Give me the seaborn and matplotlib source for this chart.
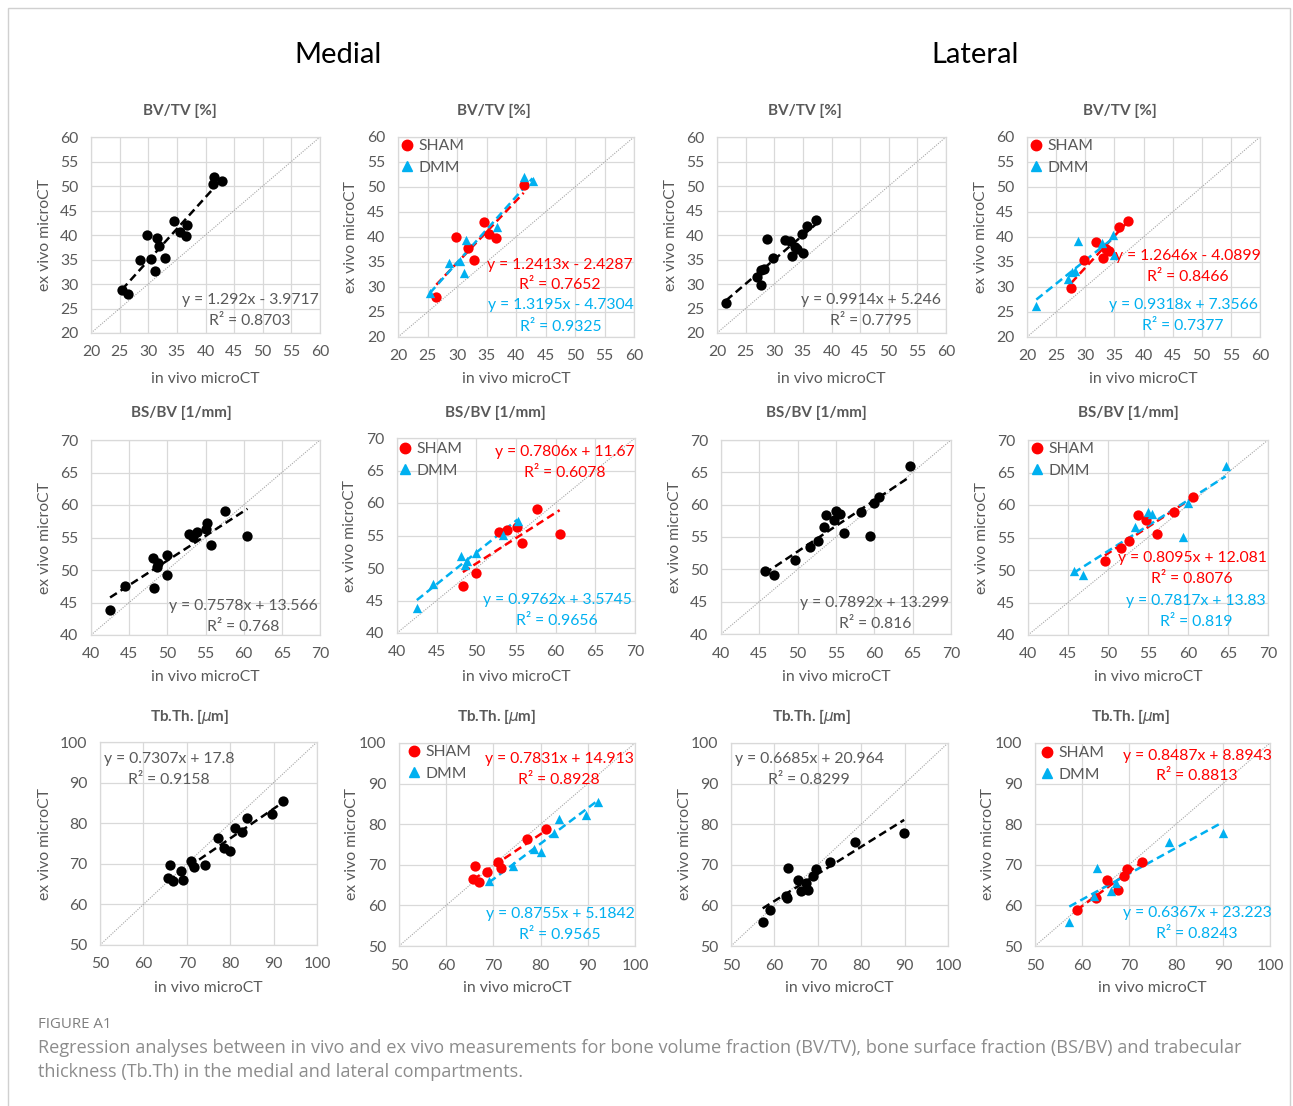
import matplotlib
matplotlib.use("Agg")
import matplotlib.pyplot as plt
import seaborn as sns
import numpy as np
import pandas as pd
from matplotlib.lines import Line2D
from matplotlib.patches import Rectangle

# ---------------- data ----------------
# Medial BV/TV
mbv_sham_x = [41.3, 34.5, 29.8, 35.5, 36.6, 31.8, 32.9, 26.5]
mbv_sham_y = [50.4, 42.9, 40.0, 40.6, 39.8, 37.8, 35.4, 28.0]
mbv_dmm_x = [41.4, 42.8, 36.7, 31.5, 30.5, 28.6, 31.2, 25.4]
mbv_dmm_y = [51.9, 51.1, 42.0, 39.3, 35.2, 34.8, 32.7, 28.8]
# Lateral BV/TV
lbv_sham_x = [37.3, 35.8, 31.9, 33.6, 34.0, 33.1, 29.8, 27.6]
lbv_sham_y = [43.1, 41.9, 39.0, 37.5, 37.2, 35.7, 35.4, 29.7]
lbv_dmm_x = [28.8, 32.8, 34.8, 35.0, 28.2, 27.7, 27.0, 21.6]
lbv_dmm_y = [39.2, 38.7, 40.3, 36.3, 33.1, 32.9, 31.5, 26.1]
# Medial BS/BV
mbs_sham_x = [57.6, 55.1, 53.9, 52.9, 55.7, 60.5, 50.0, 48.3]
mbs_sham_y = [59.1, 56.3, 55.9, 55.6, 53.8, 55.2, 49.2, 47.2]
mbs_dmm_x = [55.2, 53.3, 49.9, 48.1, 48.8, 48.6, 44.5, 42.5]
mbs_dmm_y = [57.2, 55.1, 52.3, 51.8, 51.1, 50.4, 47.6, 43.9]
# Lateral BS/BV
lbs_sham_x = [60.6, 58.2, 53.7, 54.7, 56.1, 52.6, 51.6, 49.6]
lbs_sham_y = [61.2, 58.9, 58.4, 57.7, 55.6, 54.4, 53.4, 51.4]
lbs_dmm_x = [64.7, 60.0, 55.0, 55.5, 53.4, 59.4, 45.7, 46.9]
lbs_dmm_y = [66.0, 60.3, 59.0, 58.6, 56.6, 55.1, 49.8, 49.2]
# Medial Tb.Th
mtb_sham_x = [81.2, 77.2, 70.9, 71.7, 68.6, 66.1, 65.7, 66.9]
mtb_sham_y = [78.7, 76.3, 70.6, 69.3, 68.2, 69.8, 66.6, 65.8]
mtb_dmm_x = [92.1, 89.6, 83.8, 82.8, 78.6, 80.0, 74.1, 69.1]
mtb_dmm_y = [85.5, 82.2, 81.2, 77.8, 73.9, 73.1, 69.6, 65.9]
# Lateral Tb.Th
ltb_sham_x = [72.8, 69.5, 68.9, 65.4, 67.7, 63.0, 58.9]
ltb_sham_y = [70.6, 68.9, 67.3, 66.2, 63.8, 61.8, 58.9]
ltb_dmm_x = [89.9, 78.5, 63.1, 67.2, 66.2, 62.6, 57.3]
ltb_dmm_y = [77.9, 75.6, 69.1, 65.4, 63.6, 62.4, 55.9]

# trendline coefficients (slope, intercept) as reported
fit_all = {"mbv": (1.292, -3.9717), "lbv": (0.9914, 5.246),
           "mbs": (0.7578, 13.566), "lbs": (0.7892, 13.299),
           "mtb": (0.7307, 17.8), "ltb": (0.6685, 20.964)}
fit_sham = {"mbv": (1.2413, -2.4287), "lbv": (1.2646, -4.0899),
            "mbs": (0.7806, 11.67), "lbs": (0.8095, 12.081),
            "mtb": (0.7831, 14.913), "ltb": (0.8487, 8.8943)}
fit_dmm = {"mbv": (1.3195, -4.7304), "lbv": (0.9318, 7.3566),
           "mbs": (0.9762, 3.5745), "lbs": (0.7817, 13.83),
           "mtb": (0.8755, 5.1842), "ltb": (0.6367, 23.223)}

eq_all = {"mbv": ("y = 1.292x - 3.9717", "R² = 0.8703"),
          "lbv": ("y = 0.9914x + 5.246", "R² = 0.7795"),
          "mbs": ("y = 0.7578x + 13.566", "R² = 0.768"),
          "lbs": ("y = 0.7892x + 13.299", "R² = 0.816"),
          "mtb": ("y = 0.7307x + 17.8", "R² = 0.9158"),
          "ltb": ("y = 0.6685x + 20.964", "R² = 0.8299")}
eq_sham = {"mbv": ("y = 1.2413x - 2.4287", "R² = 0.7652"),
           "lbv": ("y = 1.2646x - 4.0899", "R² = 0.8466"),
           "mbs": ("y = 0.7806x + 11.67", "R² = 0.6078"),
           "lbs": ("y = 0.8095x + 12.081", "R² = 0.8076"),
           "mtb": ("y = 0.7831x + 14.913", "R² = 0.8928"),
           "ltb": ("y = 0.8487x + 8.8943", "R² = 0.8813")}
eq_dmm = {"mbv": ("y = 1.3195x - 4.7304", "R² = 0.9325"),
          "lbv": ("y = 0.9318x + 7.3566", "R² = 0.7377"),
          "mbs": ("y = 0.9762x + 3.5745", "R² = 0.9656"),
          "lbs": ("y = 0.7817x + 13.83", "R² = 0.819"),
          "mtb": ("y = 0.8755x + 5.1842", "R² = 0.9565"),
          "ltb": ("y = 0.6367x + 23.223", "R² = 0.8243")}

titles = {"bv": "BV/TV [%]", "bs": "BS/BV [1/mm]", "tb": r"Tb.Th. [$\mu$m]"}
ranges = {"bv": (20, 60, 5), "bs": (40, 70, 5), "tb": (50, 100, 10)}
compartments = ["Medial", "Lateral"]
group_names = ["SHAM", "DMM"]

data = {
    "mbv": (mbv_sham_x, mbv_sham_y, mbv_dmm_x, mbv_dmm_y),
    "lbv": (lbv_sham_x, lbv_sham_y, lbv_dmm_x, lbv_dmm_y),
    "mbs": (mbs_sham_x, mbs_sham_y, mbs_dmm_x, mbs_dmm_y),
    "lbs": (lbs_sham_x, lbs_sham_y, lbs_dmm_x, lbs_dmm_y),
    "mtb": (mtb_sham_x, mtb_sham_y, mtb_dmm_x, mtb_dmm_y),
    "ltb": (ltb_sham_x, ltb_sham_y, ltb_dmm_x, ltb_dmm_y),
}

# ---------------- style ----------------
sns.set_theme(style="white")
plt.rcParams["font.family"] = ["Lato", "DejaVu Sans"]
plt.rcParams["mathtext.fontset"] = "dejavusans"

W, H = 1293, 1106
fig = plt.figure(figsize=(W / 100, H / 100), dpi=100)
fig.patch.set_facecolor("white")

GRAY = "#595959"
GRID = "#D9D9D9"
RED = "#FF0000"
BLUE = "#00B0F0"
FS = 11.3


def fx(px):
    return px / W


def fy(py):
    return 1 - py / H


def add_ax(l, r, t, b):
    return fig.add_axes([fx(l), fy(b), (r - l) / W, (b - t) / H])


# panel boxes in pixels: (left, right, top, bottom)
boxes = {
    ("mbv", 0): (91, 320, 137, 333), ("mbv", 1): (398, 634, 137, 337),
    ("lbv", 0): (717, 946, 137, 333), ("lbv", 1): (1027, 1260, 137, 337),
    ("mbs", 0): (91, 320, 440, 635), ("mbs", 1): (397, 635, 438, 633),
    ("lbs", 0): (721, 951, 440, 634), ("lbs", 1): (1028, 1268, 440, 635),
    ("mtb", 0): (100, 317, 742, 945), ("mtb", 1): (399, 635, 743, 946),
    ("ltb", 0): (731, 948, 743, 946), ("ltb", 1): (1035, 1270, 743, 946),
}
title_pos = {
    ("mbv", 0): (180, 111), ("mbv", 1): (494, 111), ("lbv", 0): (805, 111), ("lbv", 1): (1120, 111),
    ("mbs", 0): (181, 413), ("mbs", 1): (495, 413), ("lbs", 0): (816, 413), ("lbs", 1): (1128, 413),
    ("mtb", 0): (190, 716), ("mtb", 1): (497, 716), ("ltb", 0): (812, 716), ("ltb", 1): (1131, 716),
}
ylab_x = {
    ("mbv", 0): 45, ("mbv", 1): 351, ("lbv", 0): 671, ("lbv", 1): 981,
    ("mbs", 0): 45, ("mbs", 1): 350, ("lbs", 0): 675, ("lbs", 1): 982,
    ("mtb", 0): 45, ("mtb", 1): 352, ("ltb", 0): 685, ("ltb", 1): 988,
}
xlab_y = {"bv": 379, "bs": 677, "tb": 988}
# equation text positions (center x, y of first line, y of second line)
eqpos_all = {"mbv": (250, 300, 321), "lbv": (871, 300, 321), "mbs": (243, 606, 627),
             "lbs": (875, 603, 624), "mtb": (169, 759, 780), "ltb": (809, 759, 780)}
eqpos_sham = {"mbv": (560, 265, 285), "lbv": (1188, 256, 277), "mbs": (565, 452, 473),
              "lbs": (1192, 558, 579), "mtb": (559, 759, 780), "ltb": (1197, 756, 776)}
eqpos_dmm = {"mbv": (561, 305, 327), "lbv": (1183, 305, 326), "mbs": (557, 600, 621),
             "lbs": (1196, 601, 622), "mtb": (560, 914, 935), "ltb": (1197, 913, 934)}
leg_pos = {"mbv": (402, 139), "lbv": (1031, 139), "mbs": (400, 442), "lbs": (1032, 442),
           "mtb": (409, 745), "ltb": (1042, 746)}


def style_axes(ax, kind):
    lo, hi, st = ranges[kind]
    ax.set_xlim(lo, hi)
    ax.set_ylim(lo, hi)
    ticks = np.arange(lo, hi + 0.1, st)
    ax.set_xticks(ticks)
    ax.set_yticks(ticks)
    ax.set_xticklabels([f"{int(t)}" for t in ticks])
    ax.set_yticklabels([f"{int(t)}" for t in ticks])
    ax.grid(True, color=GRID, linewidth=0.9)
    ax.set_axisbelow(True)
    for s in ax.spines.values():
        s.set_color(GRID)
        s.set_linewidth(0.9)
    ax.tick_params(length=0, pad=9, labelsize=FS, colors=GRAY)
    ax.set_xlabel("")
    ax.set_ylabel("")


def trend(ax, xs, coef, color):
    x0, x1 = min(xs), max(xs)
    xx = np.array([x0, x1])
    yy = coef[0] * xx + coef[1]
    ax.plot(xx, yy, linestyle=(0, (3.2, 1.8)), color=color, linewidth=1.8, zorder=3)


for key in ["mbv", "lbv", "mbs", "lbs", "mtb", "ltb"]:
    kind = key[1:]
    sx, sy, dx, dy = data[key]
    lo, hi, _ = ranges[kind]
    for variant in (0, 1):
        l, r, t, b = boxes[(key, variant)]
        ax = add_ax(l, r, t, b)
        ax.plot([lo, hi], [lo, hi], linestyle=(0, (1, 1.2)), color="#A6A6A6",
                linewidth=0.8, zorder=1)
        if variant == 0:
            df = pd.DataFrame({"x": list(sx) + list(dx), "y": list(sy) + list(dy)})
            trend(ax, df["x"], fit_all[key], "black")
            sns.scatterplot(data=df, x="x", y="y", ax=ax, color="black", marker="o",
                            s=55, linewidth=0, zorder=4, legend=False)
            cx, y1, y2 = eqpos_all[key]
            fig.text(fx(cx), fy(y1), eq_all[key][0], ha="center", va="center",
                     fontsize=FS, color=GRAY)
            fig.text(fx(cx), fy(y2), eq_all[key][1], ha="center", va="center",
                     fontsize=FS, color=GRAY)
        else:
            dfs = pd.DataFrame({"x": sx, "y": sy})
            dfd = pd.DataFrame({"x": dx, "y": dy})
            trend(ax, dfs["x"], fit_sham[key], RED)
            trend(ax, dfd["x"], fit_dmm[key], BLUE)
            sns.scatterplot(data=dfs, x="x", y="y", ax=ax, color=RED, marker="o",
                            s=55, linewidth=0, zorder=4, legend=False)
            sns.scatterplot(data=dfd, x="x", y="y", ax=ax, color=BLUE, marker="^",
                            s=45, linewidth=0, zorder=4, legend=False)
            for eqs, pos, col in ((eq_sham, eqpos_sham, RED), (eq_dmm, eqpos_dmm, BLUE)):
                cx, y1, y2 = pos[key]
                fig.text(fx(cx), fy(y1), eqs[key][0], ha="center", va="center",
                         fontsize=FS, color=col)
                fig.text(fx(cx), fy(y2), eqs[key][1], ha="center", va="center",
                         fontsize=FS, color=col)
            handles = [Line2D([], [], marker="o", color=RED, linestyle="none", markersize=7.5),
                       Line2D([], [], marker="^", color=BLUE, linestyle="none", markersize=6.5)]
            lx, ly = leg_pos[key]
            bx = (lx - l) / (r - l)
            by = 1 - (ly - t) / (b - t)
            leg = ax.legend(handles, group_names, loc="upper left", bbox_to_anchor=(bx, by),
                            frameon=False, fontsize=FS, handlelength=0.7, handletextpad=0.35,
                            labelspacing=0.5, borderpad=0, borderaxespad=0)
            for txt in leg.get_texts():
                txt.set_color(GRAY)
        style_axes(ax, kind)
        tx, ty = title_pos[(key, variant)]
        fig.text(fx(tx), fy(ty), titles[kind], ha="center", va="center",
                 fontsize=11, fontweight="bold", color=GRAY)
        fig.text(fx(ylab_x[(key, variant)]), fy((t + b) / 2), "ex vivo microCT",
                 rotation=90, ha="center", va="center", fontsize=FS, color=GRAY)
        fig.text(fx((l + r) / 2), fy(xlab_y[kind]), "in vivo microCT",
                 ha="center", va="center", fontsize=FS, color=GRAY)

# compartment headers
fig.text(fx(338), fy(55), compartments[0], ha="center", va="center", fontsize=21, color="black")
fig.text(fx(975), fy(55), compartments[1], ha="center", va="center", fontsize=21, color="black")

# caption
fig.text(fx(38), fy(1025), "FIGURE A1", ha="left", va="center", fontsize=10.8,
         color="#7F7F7F", family=["Open Sans", "DejaVu Sans"])
fig.text(fx(38), fy(1048),
         "Regression analyses between in vivo and ex vivo measurements for bone volume fraction (BV/TV), "
         "bone surface fraction (BS/BV) and trabecular",
         ha="left", va="center", fontsize=13.1, color="#8C8C8C", family=["Open Sans", "DejaVu Sans"])
fig.text(fx(38), fy(1072), "thickness (Tb.Th) in the medial and lateral compartments.",
         ha="left", va="center", fontsize=13.1, color="#8C8C8C", family=["Open Sans", "DejaVu Sans"])

# outer frame
fig.patches.append(Rectangle((fx(7.5), fy(1120)), (1290 - 7.5) / W, (1120 - 7.5) / H,
                             transform=fig.transFigure, fill=False, edgecolor="#D0D0D0",
                             linewidth=1.0))

fig.savefig("out.png", dpi=100, facecolor="white")
